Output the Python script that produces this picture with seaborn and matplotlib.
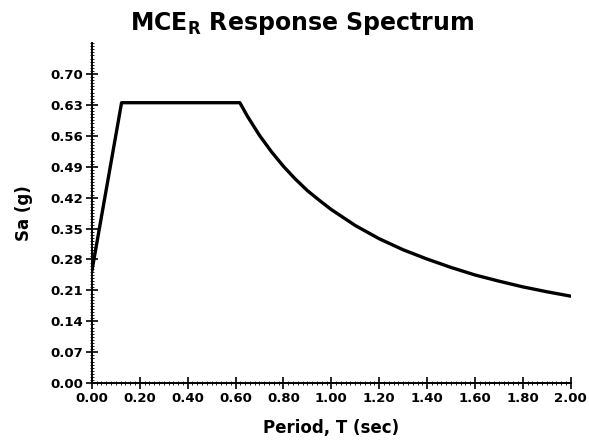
import numpy as np
import pandas as pd
import matplotlib
matplotlib.use('Agg')
import matplotlib.pyplot as plt
from matplotlib.ticker import MultipleLocator, FormatStrFormatter
import seaborn as sns

# values
period = [0.00, 0.124, 0.618, 0.65, 0.70, 0.75, 0.80, 0.85, 0.90, 0.95, 1.00,
          1.10, 1.20, 1.30, 1.40, 1.50, 1.60, 1.70, 1.80, 1.90, 2.00]
sa = [0.254, 0.635, 0.635, 0.604, 0.561, 0.524, 0.491, 0.462, 0.436, 0.414, 0.393,
      0.357, 0.327, 0.302, 0.281, 0.262, 0.245, 0.231, 0.218, 0.207, 0.197]
x_ticks = [0.00, 0.20, 0.40, 0.60, 0.80, 1.00, 1.20, 1.40, 1.60, 1.80, 2.00]
y_ticks = [0.00, 0.07, 0.14, 0.21, 0.28, 0.35, 0.42, 0.49, 0.56, 0.63, 0.70]

df = pd.DataFrame({'T': period, 'Sa': sa})

sns.set_style('ticks')
plt.rcParams['font.family'] = ['DejaVu Sans']
plt.rcParams['text.color'] = 'black'
plt.rcParams['axes.labelcolor'] = 'black'

fig = plt.figure(figsize=(5.89, 4.44), dpi=100)
ax = fig.add_axes([0.156, 0.137, 0.813, 0.766])

sns.lineplot(data=df, x='T', y='Sa', ax=ax, color='black', linewidth=2.4,
             sort=False, estimator=None)

ax.set_xlim(0, 2.0)
ax.set_ylim(0, 0.77)
ax.set_xticks(x_ticks)
ax.set_yticks(y_ticks)
ax.xaxis.set_minor_locator(MultipleLocator(0.02))
ax.yaxis.set_minor_locator(MultipleLocator(0.007))
ax.xaxis.set_major_formatter(FormatStrFormatter('%.2f'))
ax.yaxis.set_major_formatter(FormatStrFormatter('%.2f'))

for side in ['top', 'right']:
    ax.spines[side].set_visible(False)
for side in ['left', 'bottom']:
    ax.spines[side].set_linewidth(1.4)
    ax.spines[side].set_color('black')

ax.tick_params(which='major', direction='inout', length=9, width=1.2,
               labelsize=9.5, colors='black', pad=2)
ax.tick_params(which='minor', direction='inout', length=3, width=0.6, colors='black')
for lab in ax.get_xticklabels() + ax.get_yticklabels():
    lab.set_fontweight('bold')

ax.set_xlabel('Period, T (sec)', fontsize=12, fontweight='bold', labelpad=10)
ax.set_ylabel('Sa (g)', fontsize=12, fontweight='bold', labelpad=12)
fig.text(302 / 589, 1 - 30 / 444, r'MCE$_\mathbf{R}$ Response Spectrum',
         fontsize=17, fontweight='bold', ha='center', va='baseline')

fig.savefig('out.png', dpi=100)
